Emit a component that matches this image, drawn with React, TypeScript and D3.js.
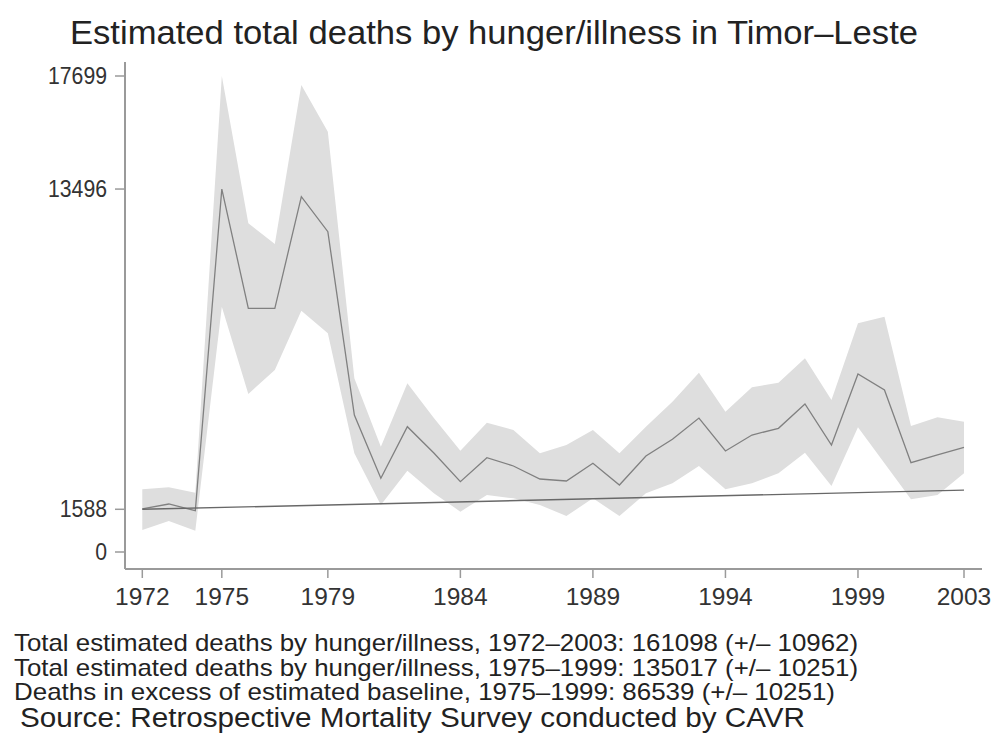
import * as d3 from 'd3';

// Years and estimates
const years = [
  1972, 1973, 1974, 1975, 1976, 1977, 1978, 1979, 1980, 1981, 1982, 1983, 1984, 1985, 1986, 1987,
  1988, 1989, 1990, 1991, 1992, 1993, 1994, 1995, 1996, 1997, 1998, 1999, 2000, 2001, 2002, 2003,
];
const deaths = [
  1600, 1785, 1535, 13496, 9061, 9061, 13212, 11910, 5094, 2740, 4660, 3680, 2614, 3507, 3198, 2714,
  2640, 3298, 2491, 3570, 4190, 4980, 3755, 4350, 4600, 5503, 3979, 6619, 6024, 3321, 3607, 3893,
];
const upper = [
  2331, 2406, 2205, 17699, 12222, 11452, 17364, 15628, 6458, 3916, 6273, 4983, 3768, 4809, 4536, 3670,
  3979, 4536, 3670, 4660, 5590, 6668, 5218, 6123, 6296, 7200, 5652, 8503, 8751, 4685, 5009, 4846,
];
const lower = [
  818, 1153, 792, 9122, 5875, 6767, 8973, 8132, 3670, 1748, 3024, 2183, 1500, 2119, 1996, 1748,
  1339, 1996, 1339, 2183, 2555, 3198, 2331, 2555, 2926, 3693, 2454, 4636, 3298, 1959, 2119, 2926,
];
const baselineYears = [1972, 2003];
const baselineValues = [1588, 2300];

const yTicks = [0, 1588, 13496, 17699];
const xTicks = [1972, 1975, 1979, 1984, 1989, 1994, 1999, 2003];

const title = 'Estimated total deaths by hunger/illness in Timor\u2013Leste';
const notes = [
  'Total estimated deaths by hunger/illness, 1972\u20132003: 161098 (+/\u2013 10962)',
  'Total estimated deaths by hunger/illness, 1975\u20131999: 135017 (+/\u2013 10251)',
  'Deaths in excess of estimated baseline, 1975\u20131999: 86539 (+/\u2013 10251)',
];
const source = 'Source: Retrospective Mortality Survey conducted by CAVR';

const W = 995;
const H = 736;
const font = '"Liberation Sans", Arial, Helvetica, sans-serif';

export default function App() {
  const x = d3.scaleLinear().domain([1972, 2003]).range([142.3, 964]);
  const y = d3.scaleLinear().domain([0, 17699]).range([552, 76]);

  const rows = years.map((yr, i) => ({ yr, v: deaths[i], hi: upper[i], lo: lower[i] }));

  const band = d3.area<typeof rows[0]>()
    .x(d => x(d.yr))
    .y0(d => y(d.lo))
    .y1(d => y(d.hi))(rows) || '';

  const line = d3.line<typeof rows[0]>()
    .x(d => x(d.yr))
    .y(d => y(d.v))(rows) || '';

  const base = d3.line<number>()
    .x((_, i) => x(baselineYears[i]))
    .y(d => y(d))(baselineValues) || '';

  const axisX = 125;
  const axisY = 569;
  const noteLens = [844, 844, 821];

  return (
    <svg width={W} height={H} style={{ position: 'absolute', left: 0, top: 0, background: '#fff' }}
      fontFamily={font}>
      <rect width={W} height={H} fill="#fff" />
      <text x={70} y={43.5} fontSize={32.5} fill="#222" textLength={848} lengthAdjust="spacingAndGlyphs">
        {title}
      </text>

      {/* CI band, estimate and baseline */}
      <path d={band} fill="#dedede" stroke="none" />
      <path d={line} fill="none" stroke="#808080" strokeWidth={1.3} />
      <path d={base} fill="none" stroke="#686868" strokeWidth={1.4} />

      {/* axes */}
      <line x1={axisX} x2={axisX} y1={62} y2={axisY} stroke="#9a9a9a" strokeWidth={2} />
      <line x1={axisX} x2={982} y1={axisY} y2={axisY} stroke="#9a9a9a" strokeWidth={2} />

      {yTicks.map(t => (
        <g key={t}>
          <line x1={115} x2={axisX} y1={y(t)} y2={y(t)} stroke="#9a9a9a" strokeWidth={1.5} />
          <text x={107} y={y(t)} dy="0.35em" textAnchor="end" fontSize={23} fill="#333"
            textLength={String(t).length * 11.8} lengthAdjust="spacingAndGlyphs">{t}</text>
        </g>
      ))}

      {xTicks.map(t => (
        <g key={t}>
          <line x1={x(t)} x2={x(t)} y1={axisY} y2={578} stroke="#9a9a9a" strokeWidth={1.5} />
          <text x={x(t)} y={604.5} textAnchor="middle" fontSize={24.5} fill="#333">{t}</text>
        </g>
      ))}

      {notes.map((n, i) => (
        <text key={n} x={14} y={651 + i * 24.5} fontSize={24} fill="#222"
          textLength={noteLens[i]} lengthAdjust="spacingAndGlyphs">{n}</text>
      ))}
      <text x={20} y={727} fontSize={27} fill="#222" textLength={785} lengthAdjust="spacingAndGlyphs">
        {source}
      </text>
    </svg>
  );
}
